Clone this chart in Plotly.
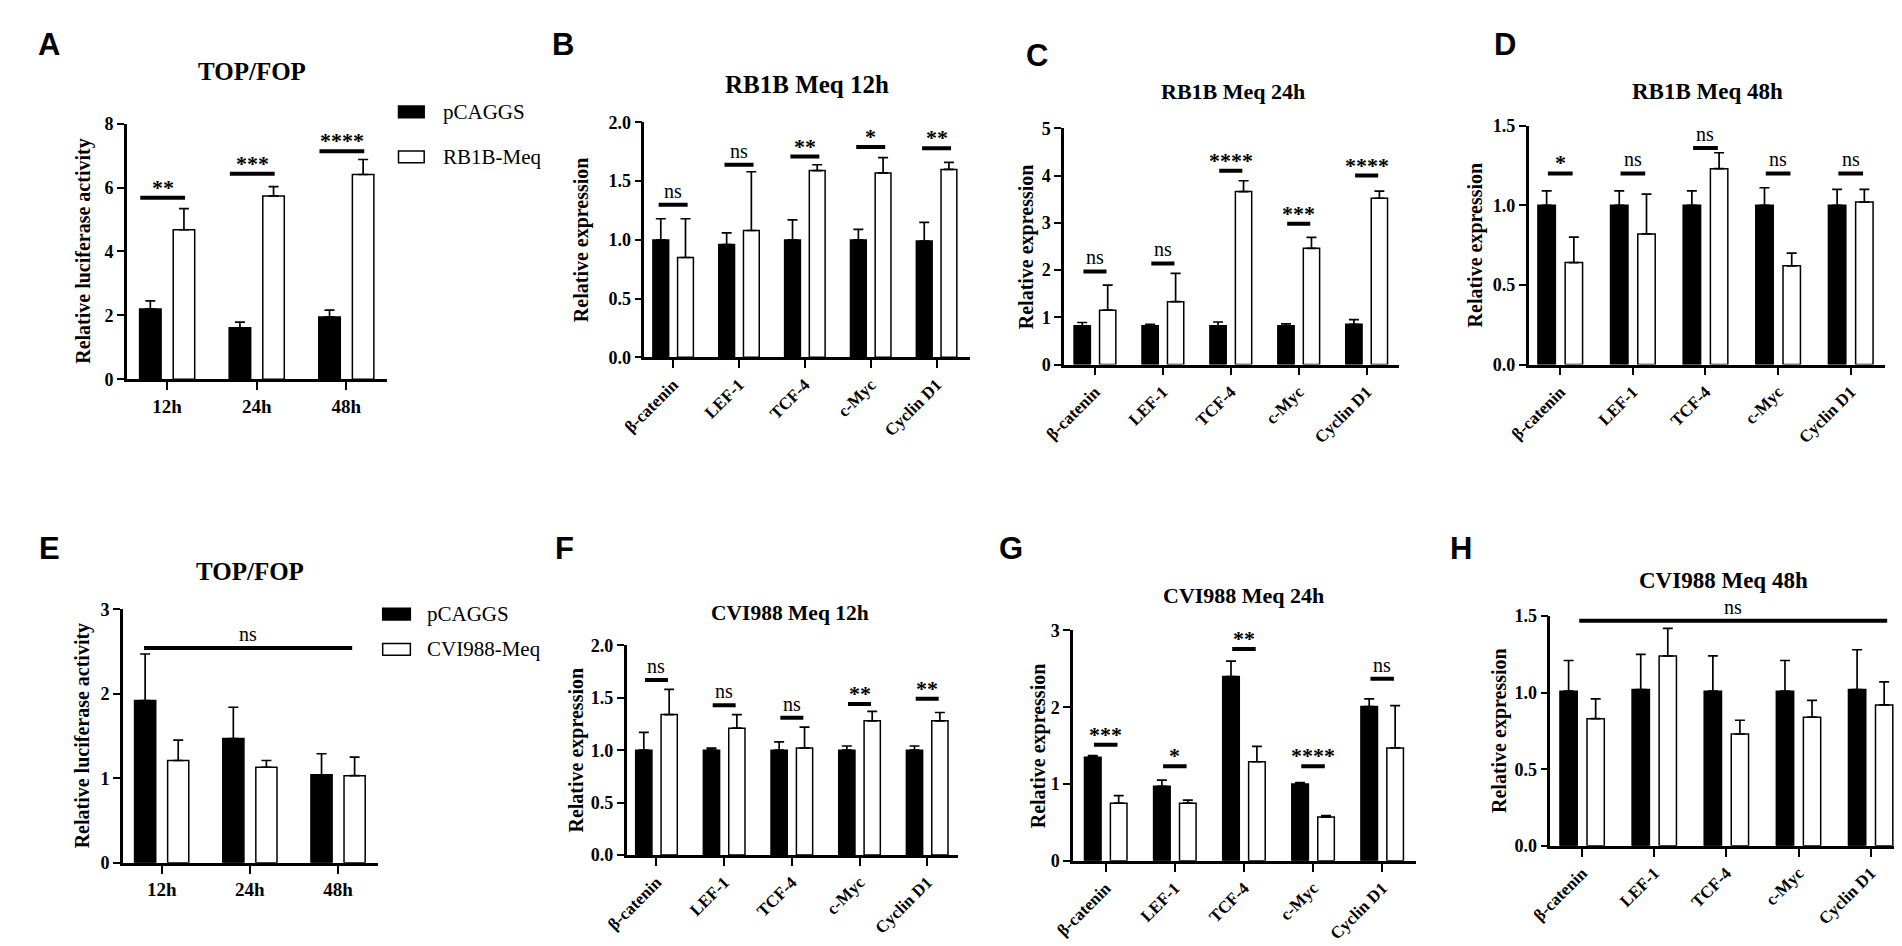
import plotly.graph_objects as go

W, H = 1902, 946
SERIF = "Liberation Serif"
SANS = "Liberation Sans"

# ---------------- data ----------------
time_labels = ["12h", "24h", "48h"]
gene_labels = ["β-catenin", "LEF-1", "TCF-4", "c-Myc", "Cyclin D1"]
ctrl_name = "pCAGGS"
rb1b_name = "RB1B-Meq"
cvi_name = "CVI988-Meq"

# A  TOP/FOP (RB1B)
a_ctrl = [2.20, 1.61, 1.95]
a_ctrl_sd = [0.25, 0.18, 0.21]
a_meq = [4.68, 5.74, 6.41]
a_meq_sd = [0.66, 0.29, 0.47]
a_sig_y = [5.68, 6.43, 7.14]
a_sig = ["**", "***", "****"]

# B  RB1B Meq 12h
b_ctrl = [1.00, 0.96, 1.00, 1.00, 0.99]
b_ctrl_sd = [0.18, 0.10, 0.17, 0.09, 0.16]
b_meq = [0.85, 1.08, 1.59, 1.57, 1.60]
b_meq_sd = [0.33, 0.50, 0.05, 0.13, 0.06]
b_sig_y = [1.30, 1.64, 1.71, 1.79, 1.78]
b_sig = ["ns", "ns", "**", "*", "**"]

# C  RB1B Meq 24h
c_ctrl = [0.82, 0.82, 0.82, 0.82, 0.85]
c_ctrl_sd = [0.07, 0.03, 0.08, 0.04, 0.10]
c_meq = [1.15, 1.33, 3.66, 2.46, 3.52]
c_meq_sd = [0.53, 0.60, 0.23, 0.23, 0.15]
c_sig_y = [1.97, 2.14, 4.10, 2.98, 4.00]
c_sig = ["ns", "ns", "****", "***", "****"]

# D  RB1B Meq 48h
d_ctrl = [1.00, 1.00, 1.00, 1.00, 1.00]
d_ctrl_sd = [0.09, 0.09, 0.09, 0.11, 0.10]
d_meq = [0.64, 0.82, 1.23, 0.62, 1.02]
d_meq_sd = [0.16, 0.25, 0.10, 0.08, 0.08]
d_sig_y = [1.20, 1.20, 1.36, 1.20, 1.20]
d_sig = ["*", "ns", "ns", "ns", "ns"]

# E  TOP/FOP (CVI988)
e_ctrl = [1.92, 1.47, 1.04]
e_ctrl_sd = [0.55, 0.37, 0.25]
e_meq = [1.21, 1.13, 1.03]
e_meq_sd = [0.24, 0.08, 0.22]
e_sig_y = [2.54]
e_sig = ["ns"]

# F  CVI988 Meq 12h
f_ctrl = [1.00, 1.00, 1.00, 1.00, 1.00]
f_ctrl_sd = [0.17, 0.02, 0.08, 0.04, 0.04]
f_meq = [1.34, 1.21, 1.02, 1.28, 1.28]
f_meq_sd = [0.24, 0.13, 0.20, 0.09, 0.08]
f_sig_y = [1.67, 1.43, 1.31, 1.44, 1.49]
f_sig = ["ns", "ns", "ns", "**", "**"]

# G  CVI988 Meq 24h
g_ctrl = [1.35, 0.97, 2.40, 1.00, 2.01]
g_ctrl_sd = [0.02, 0.08, 0.20, 0.02, 0.10]
g_meq = [0.75, 0.75, 1.29, 0.57, 1.47]
g_meq_sd = [0.10, 0.04, 0.20, 0.02, 0.55]
g_sig_y = [1.51, 1.23, 2.76, 1.23, 2.37]
g_sig = ["***", "*", "**", "****", "ns"]

# H  CVI988 Meq 48h
h_ctrl = [1.01, 1.02, 1.01, 1.01, 1.02]
h_ctrl_sd = [0.20, 0.23, 0.23, 0.20, 0.26]
h_meq = [0.83, 1.24, 0.73, 0.84, 0.92]
h_meq_sd = [0.13, 0.18, 0.09, 0.11, 0.15]
h_sig_y = [1.47]
h_sig = ["ns"]

# ---------------- layout / geometry (pixels) ----------------
panels = [
    dict(letter="A", title="TOP/FOP", cats=time_labels, ctrl=a_ctrl, ctrl_sd=a_ctrl_sd,
         meq=a_meq, meq_sd=a_meq_sd, sig_y=a_sig_y, sig=a_sig,
         box=(97, 360, 369, 108), ymax=8, dtick=2, fmt="d", xr=(-0.45, 2.45), angle=0,
         letter_xy=(18, 27), title_xy=(224, 55), title_size=25, ylab="Relative luciferase activity",
         ylab_x=53, sig_hw=0.25, sig_dx=-0.05, span=None),
    dict(letter="B", title="RB1B Meq 12h", cats=gene_labels, ctrl=b_ctrl, ctrl_sd=b_ctrl_sd,
         meq=b_meq, meq_sd=b_meq_sd, sig_y=b_sig_y, sig=b_sig,
         box=(621, 950, 346.7, 106.7), ymax=2.0, dtick=0.5, fmt=".1f", xr=(-0.435, 4.5), angle=-45,
         letter_xy=(539, 27), title_xy=(785, 68), title_size=25, ylab="Relative expression",
         ylab_x=558, sig_hw=0.22, sig_dx=0.0, span=None),
    dict(letter="C", title="RB1B Meq 24h", cats=gene_labels, ctrl=c_ctrl, ctrl_sd=c_ctrl_sd,
         meq=c_meq, meq_sd=c_meq_sd, sig_y=c_sig_y, sig=c_sig,
         box=(1045.7, 1385, 354, 112.7), ymax=5, dtick=1, fmt="d", xr=(-0.455, 4.48), angle=-45,
         letter_xy=(1018, 38), title_xy=(1217, 75), title_size=22, ylab="Relative expression",
         ylab_x=1008, sig_hw=0.17, sig_dx=0.0, span=None),
    dict(letter="D", title="RB1B Meq 48h", cats=gene_labels, ctrl=d_ctrl, ctrl_sd=d_ctrl_sd,
         meq=d_meq, meq_sd=d_meq_sd, sig_y=d_sig_y, sig=d_sig,
         box=(1516, 1877, 354, 110), ymax=1.5, dtick=0.5, fmt=".1f", xr=(-0.435, 4.476), angle=-45,
         letter_xy=(1492, 27), title_xy=(1697, 75), title_size=23, ylab="Relative expression",
         ylab_x=1462, sig_hw=0.17, sig_dx=0.0, span=None),
    dict(letter="E", title="TOP/FOP", cats=time_labels, ctrl=e_ctrl, ctrl_sd=e_ctrl_sd,
         meq=e_meq, meq_sd=e_meq_sd, sig_y=e_sig_y, sig=e_sig,
         box=(93, 351, 863, 604), ymax=3, dtick=1, fmt="d", xr=(-0.44, 2.45), angle=0,
         letter_xy=(19, 542), title_xy=(222, 565), title_size=25, ylab="Relative luciferase activity",
         ylab_x=53, sig_hw=0.0, sig_dx=0.0, span=(-0.2, 2.16)),
    dict(letter="F", title="CVI988 Meq 12h", cats=gene_labels, ctrl=f_ctrl, ctrl_sd=f_ctrl_sd,
         meq=f_meq, meq_sd=f_meq_sd, sig_y=f_sig_y, sig=f_sig,
         box=(603, 938, 855, 641), ymax=2.0, dtick=0.5, fmt=".1f", xr=(-0.44, 4.45), angle=-45,
         letter_xy=(540, 542), title_xy=(768, 608), title_size=21.5, ylab="Relative expression",
         ylab_x=552, sig_hw=0.17, sig_dx=0.0, span=None),
    dict(letter="G", title="CVI988 Meq 24h", cats=gene_labels, ctrl=g_ctrl, ctrl_sd=g_ctrl_sd,
         meq=g_meq, meq_sd=g_meq_sd, sig_y=g_sig_y, sig=g_sig,
         box=(1055, 1402, 861, 625.7), ymax=3, dtick=1, fmt="d", xr=(-0.47, 4.49), angle=-45,
         letter_xy=(992, 542), title_xy=(1227, 590), title_size=22, ylab="Relative expression",
         ylab_x=1020, sig_hw=0.17, sig_dx=0.0, span=None),
    dict(letter="H", title="CVI988 Meq 48h", cats=gene_labels, ctrl=h_ctrl, ctrl_sd=h_ctrl_sd,
         meq=h_meq, meq_sd=h_meq_sd, sig_y=h_sig_y, sig=h_sig,
         box=(1538, 1895, 845.7, 611), ymax=1.5, dtick=0.5, fmt=".1f", xr=(-0.44, 4.45), angle=-45,
         letter_xy=(1447, 542), title_xy=(1713, 575), title_size=23, ylab="Relative expression",
         ylab_x=1487, sig_hw=0.0, sig_dx=0.0, span=(-0.04, 4.23)),
]

meq_names = [rb1b_name, rb1b_name, rb1b_name, rb1b_name, cvi_name, cvi_name, cvi_name, cvi_name]


def px(x):
    return x / W


def py(y):
    return 1 - y / H


fig = go.Figure()
shapes = []
annots = []

for i, p in enumerate(panels, start=1):
    xa = "x" if i == 1 else f"x{i}"
    ya = "y" if i == 1 else f"y{i}"
    cats = p["cats"]
    n = len(cats)
    err_common = dict(type="data", symmetric=False, arrayminus=[0] * n,
                      color="black", thickness=1.7, width=5)
    fig.add_trace(go.Bar(
        x=cats, y=p["ctrl"], name=ctrl_name, xaxis=xa, yaxis=ya, showlegend=False,
        marker=dict(color="black", line=dict(color="black", width=1.5)),
        error_y=dict(array=p["ctrl_sd"], **err_common),
    ))
    fig.add_trace(go.Bar(
        x=cats, y=p["meq"], name=meq_names[i - 1], xaxis=xa, yaxis=ya, showlegend=False,
        marker=dict(color="white", line=dict(color="black", width=1.5)),
        error_y=dict(array=p["meq_sd"], **err_common),
    ))

    x0, x1, yb, yt = p["box"]
    axis_common = dict(showline=True, linecolor="black", linewidth=2.6, ticks="outside",
                       tickwidth=2, tickcolor="black", showgrid=False,
                       zeroline=False, fixedrange=True)
    rotated = p["angle"] != 0
    fig.layout["xaxis" if i == 1 else f"xaxis{i}"] = dict(
        domain=[px(x0), px(x1)], anchor=ya, type="category", range=list(p["xr"]),
        tickangle=p["angle"], ticklen=8,
        tickfont=dict(family=SERIF, size=(17 if rotated else 19), color="black", weight="bold"),
        **axis_common)
    fig.layout["yaxis" if i == 1 else f"yaxis{i}"] = dict(
        domain=[py(yb), py(yt)], anchor=xa, range=[0, p["ymax"]], dtick=p["dtick"],
        tick0=0, tickformat=p["fmt"], ticklen=7,
        tickfont=dict(family=SERIF, size=18, color="black", weight="bold"), **axis_common)

    # significance markers
    if p["span"] is None:
        for k, (sy, lab) in enumerate(zip(p["sig_y"], p["sig"])):
            cx = k + p["sig_dx"]
            shapes.append(dict(type="line", xref=xa, yref=ya, x0=cx - p["sig_hw"], x1=cx + p["sig_hw"],
                               y0=sy, y1=sy, line=dict(color="black", width=4)))
            star = lab != "ns"
            annots.append(dict(xref=xa, yref=ya, x=cx, y=sy, text=lab, showarrow=False,
                               yanchor="bottom", yshift=(-4 if star else 1),
                               font=dict(family=SERIF, size=(22 if star else 20), color="black",
                                         weight=("bold" if star else "normal"))))
    else:
        s0, s1 = p["span"]
        sy = p["sig_y"][0]
        shapes.append(dict(type="line", xref=xa, yref=ya, x0=s0, x1=s1, y0=sy, y1=sy,
                           line=dict(color="black", width=4)))
        annots.append(dict(xref=xa, yref=ya, x=(s0 + s1) / 2, y=sy, text=p["sig"][0],
                           showarrow=False, yanchor="bottom", yshift=1,
                           font=dict(family=SERIF, size=20, color="black")))

    # panel letter
    lx, ly = p["letter_xy"]
    annots.append(dict(xref="paper", yref="paper", x=px(lx), y=py(ly), text=p["letter"],
                       showarrow=False, xanchor="center", yanchor="middle",
                       font=dict(family=SANS, size=31, color="black", weight="bold")))
    # panel title
    tx, ty = p["title_xy"]
    annots.append(dict(xref="paper", yref="paper", x=px(tx), y=py(ty), text=p["title"],
                       showarrow=False, xanchor="center", yanchor="middle",
                       font=dict(family=SERIF, size=p["title_size"], color="black", weight="bold")))
    # y-axis title
    annots.append(dict(xref="paper", yref="paper", x=px(p["ylab_x"]), y=py((yb + yt) / 2),
                       text=p["ylab"], textangle=-90, showarrow=False,
                       xanchor="center", yanchor="middle",
                       font=dict(family=SERIF, size=20, color="black", weight="bold")))

# legends for A and E
legend_specs = [
    (372, 398, 415, 96, 142, rb1b_name),
    (356, 384, 399, 609, 645, cvi_name),
]
for (rx0, rx1, tx, y_a, y_b, meq_label) in legend_specs:
    for yc, fill, lab in [(y_a, "black", ctrl_name), (y_b, "white", meq_label)]:
        shapes.append(dict(type="rect", xref="paper", yref="paper", x0=px(rx0), x1=px(rx1),
                           y0=py(yc + 6), y1=py(yc - 6), fillcolor=fill,
                           line=dict(color="black", width=1.5)))
        annots.append(dict(xref="paper", yref="paper", x=px(tx), y=py(yc), text=lab,
                           showarrow=False, xanchor="left", yanchor="middle",
                           font=dict(family=SERIF, size=21, color="black")))

fig.update_layout(
    width=W, height=H, margin=dict(l=0, r=0, t=0, b=0),
    paper_bgcolor="white", plot_bgcolor="white",
    barmode="group", bargap=0.25, bargroupgap=0.36,
    shapes=shapes, annotations=annots, showlegend=False,
)

fig.write_html("out.html")
